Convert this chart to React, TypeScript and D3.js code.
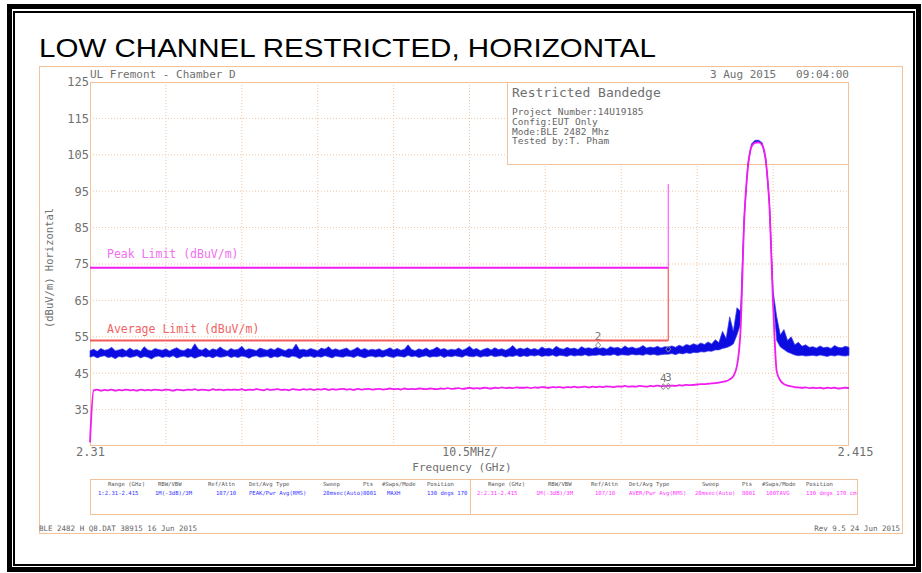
import React, { useEffect, useRef } from 'react';
import * as d3 from 'd3';

// sweep: 2.31 - 2.415 GHz, one sample every 0.5 MHz
const startMHz = 2310;
const stopMHz = 2415;
const stepMHz = 0.5;

// trace 1 (peak / max hold), upper and lower edge of the noisy band, dBuV/m
const peakHi = [
  51.2, 51.6, 51.0, 51.8, 51.3, 51.5, 52.1, 51.2, 51.4, 51.7, 51.1, 51.9, 51.3, 51.5, 51.0, 52.3, 51.4, 51.2, 51.8, 51.5,
  51.3, 51.7, 51.1, 51.6, 52.0, 51.4, 51.2, 51.8, 51.5, 53.1, 51.6, 51.3, 51.9, 51.2, 51.7, 51.4, 52.2, 51.5, 51.1, 51.8,
  51.4, 51.6, 52.4, 51.3, 51.7, 51.5, 51.2, 51.9, 51.6, 51.3, 51.8, 51.4, 52.0, 51.6, 51.2, 51.7, 51.5, 53.0, 51.4, 51.6,
  51.3, 51.8, 51.5, 51.2, 51.9, 51.6, 52.3, 51.4, 51.7, 51.3, 51.6, 51.9, 51.2, 51.5, 52.1, 51.4, 51.8, 51.3, 51.6, 51.4,
  51.7, 51.2, 51.5, 52.0, 51.4, 51.8, 51.3, 51.6, 52.8, 51.5, 51.2, 51.7, 51.4, 51.9, 51.3, 51.6, 52.2, 51.5, 51.8, 51.3,
  51.6, 51.4, 51.9, 51.3, 51.7, 52.4, 51.5, 51.8, 51.2, 51.6, 51.9, 51.4, 52.0, 51.5, 51.7, 51.3, 51.8, 52.6, 51.5, 51.9,
  51.6, 52.0, 51.5, 51.8, 51.4, 52.2, 51.7, 51.9, 51.5, 52.4, 51.8, 51.6, 52.1, 51.7, 51.9, 51.5, 52.3, 51.8, 52.0, 51.7,
  52.1, 51.8, 52.0, 51.6, 52.3, 51.9, 52.1, 51.7, 52.5, 51.9, 52.2, 51.8, 52.0, 52.6, 51.9, 52.2, 52.0, 52.4, 51.9, 52.3,
  52.2, 52.5, 52.1, 52.7, 52.3, 52.9, 52.6, 53.1, 52.7, 53.3, 52.9, 53.6, 53.0, 54.2, 53.4, 56.5, 54.5, 60.5, 56.5, 63.0,
  62.0, 88.3, 102.6, 108.0, 109.0, 109.0, 108.3, 104.1, 91.9, 67.5, 60.5, 55.5, 57.0, 54.0, 55.0, 52.8, 53.5, 52.4, 52.8, 52.1,
  52.3, 51.9, 52.5, 52.0, 52.2, 51.8, 52.6, 52.1, 52.0, 52.4, 52.1,
];
const peakLo = [
  49.4, 49.7, 49.2, 49.6, 49.8, 49.3, 49.5, 49.0, 49.6, 49.4, 49.7, 49.3, 49.5, 49.8, 49.2, 49.6, 49.4, 48.9, 49.5, 49.7,
  49.3, 49.6, 49.4, 49.8, 49.2, 49.5, 49.7, 49.3, 49.6, 49.1, 49.5, 49.8, 49.4, 49.6, 49.2, 49.7, 49.4, 49.5, 49.8, 49.3,
  49.6, 49.3, 49.7, 49.5, 49.1, 49.6, 49.8, 49.4, 49.5, 49.7, 49.2, 49.6, 49.4, 49.8, 49.5, 49.3, 49.7, 49.5, 49.0, 49.6,
  49.5, 49.7, 49.3, 49.6, 49.4, 49.8, 49.5, 49.2, 49.7, 49.5, 49.4, 49.7, 49.6, 49.3, 49.8, 49.5, 49.2, 49.6, 49.7, 49.4,
  49.6, 49.4, 49.8, 49.5, 49.3, 49.7, 49.6, 49.4, 49.9, 49.5, 49.7, 49.3, 49.6, 49.8, 49.4, 49.6, 49.5, 49.8, 49.3, 49.7,
  49.5, 49.8, 49.6, 49.4, 49.9, 49.6, 49.5, 49.8, 49.4, 49.7, 49.6, 49.9, 49.5, 49.7, 49.8, 49.4, 49.7, 49.6, 49.9, 49.5,
  49.8, 49.6, 49.9, 49.7, 50.0, 49.6, 49.8, 49.7, 50.0, 49.6, 49.9, 49.8, 49.6, 50.0, 49.7, 49.9, 49.8, 50.1, 49.7, 49.9,
  49.9, 50.1, 49.8, 50.0, 49.9, 50.2, 49.8, 50.1, 50.0, 49.9, 50.2, 50.0, 50.1, 49.9, 50.3, 50.0, 50.2, 49.9, 50.1, 50.2,
  50.2, 50.4, 50.1, 50.5, 50.3, 50.6, 50.4, 50.7, 50.6, 50.9, 50.8, 51.1, 51.0, 51.4, 51.4, 51.8, 52.0, 52.4, 53.0, 55.5,
  58.5, 87.3, 101.8, 107.3, 108.5, 108.5, 107.7, 103.4, 91.0, 65.5, 54.0, 52.2, 51.5, 50.8, 50.4, 50.0, 49.8, 49.9, 49.7, 49.8,
  49.9, 49.7, 50.0, 49.8, 49.6, 49.9, 49.7, 50.0, 49.8, 49.7, 49.9,
];
// trace 2 (average)
const avgTrace = [
  26.0, 40.3, 40.5, 40.2, 40.4, 40.3, 40.5, 40.2, 40.4, 40.3, 40.5, 40.3, 40.4, 40.2, 40.5, 40.3, 40.4, 40.3, 40.5, 40.4,
  40.3, 40.5, 40.4, 40.2, 40.5, 40.4, 40.3, 40.5, 40.4, 40.6, 40.3, 40.5, 40.4, 40.3, 40.6, 40.4, 40.5, 40.3, 40.5, 40.4,
  40.5, 40.4, 40.6, 40.3, 40.5, 40.4, 40.6, 40.5, 40.3, 40.6, 40.4, 40.5, 40.6, 40.4, 40.5, 40.3, 40.6, 40.5, 40.4, 40.6,
  40.5, 40.6, 40.4, 40.6, 40.5, 40.7, 40.4, 40.6, 40.5, 40.6, 40.7, 40.5, 40.6, 40.4, 40.7, 40.5, 40.6, 40.7, 40.5, 40.6,
  40.7, 40.5, 40.6, 40.8, 40.6, 40.7, 40.5, 40.8, 40.6, 40.7, 40.6, 40.8, 40.7, 40.6, 40.8, 40.7, 40.6, 40.8, 40.7, 40.9,
  40.7, 40.8, 40.9, 40.7, 40.8, 41.0, 40.8, 40.9, 40.8, 41.0, 40.9, 40.8, 41.0, 40.9, 41.1, 40.9, 41.0, 40.9, 41.1, 41.0,
  41.0, 41.1, 40.9, 41.1, 41.0, 41.2, 41.1, 41.0, 41.2, 41.1, 41.2, 41.0, 41.2, 41.1, 41.3, 41.1, 41.2, 41.3, 41.1, 41.3,
  41.2, 41.3, 41.2, 41.4, 41.3, 41.2, 41.4, 41.3, 41.5, 41.3, 41.4, 41.3, 41.5, 41.4, 41.3, 41.5, 41.4, 41.6, 41.4, 41.5,
  41.5, 41.6, 41.5, 41.7, 41.6, 41.8, 41.7, 41.8, 41.9, 42.0, 42.0, 42.1, 42.2, 42.3, 42.4, 42.6, 42.8, 43.3, 44.2, 47.0,
  57.0, 86.8, 101.3, 107.2, 108.3, 108.4, 107.6, 103.2, 90.5, 64.0, 45.5, 43.0, 42.0, 41.6, 41.4, 41.2, 41.1, 41.0, 41.1, 40.9,
  41.0, 40.9, 41.0, 40.8, 41.0, 40.9, 41.0, 40.8, 40.9, 41.0, 40.9,
];

const yTicks = [125, 115, 105, 95, 85, 75, 65, 55, 45, 35];

const peakLimit = 74;
const avgLimit = 54;
const bandEdgeMHz = 2390;
const bandEdgeTop = 97;

// marker 1 sits on the band edge line, its number is hidden there
const markerIds = ['', '2', '3', '4'];
const markerMHz = [2390, 2380.3, 2390, 2389.3];
const markerLevel = [51.6, 52.7, 41.4, 41.3];

const infoTitle = 'Restricted Bandedge';
const infoLines = ['Project Number:14U19185', 'Config:EUT Only', 'Mode:BLE 2482 Mhz', 'Tested by:T. Pham'];

const legendHeads = ['Range (GHz)', 'RBW/VBW', 'Ref/Attn', 'Det/Avg Type', 'Sweep', 'Pts', '#Swps/Mode', 'Position'];
const legend1 = ['1:2.31-2.415', '1M(-3dB)/3M', '107/10', 'PEAK/Pwr Avg(RMS)', '20msec(Auto)', '8001', 'MAXH', '130 degs 170'];
const legend2 = ['2:2.31-2.415', '1M(-3dB)/3M', '107/10', 'AVER/Pwr Avg(RMS)', '20msec(Auto)', '8001', '100TAVG', '130 degs 170 cm'];

const mono = '"DejaVu Sans Mono", monospace';
const orange = '#f2c29b';
const gridCol = '#f0c6a4';
const grey = '#707070';
const blue = '#0c0ce0';
const magenta = '#f01cf0';
const salmon = '#f45a5a';

const App = () => {
  const svgRef = useRef<SVGSVGElement>(null);

  useEffect(() => {
    const svg = d3.select(svgRef.current);
    svg.selectAll('*').remove();

    const x = d3.scaleLinear().domain([startMHz, stopMHz]).range([90, 849]);
    const y = d3.scaleLinear().domain([25, 125]).range([446, 82]);
    const freqs = peakHi.map((_, i) => startMHz + i * stepMHz);

    // page frames
    svg.append('rect').attr('x', 9.5).attr('y', 6.5).attr('width', 909).attr('height', 563)
      .attr('fill', 'none').attr('stroke', '#000').attr('stroke-width', 5);
    svg.append('rect').attr('x', 14).attr('y', 12).attr('width', 900).attr('height', 553)
      .attr('fill', 'none').attr('stroke', '#000').attr('stroke-width', 2);

    svg.append('text').attr('x', 39).attr('y', 57)
      .attr('font-family', '"Liberation Sans", Arial, sans-serif').attr('font-size', 26.5)
      .attr('textLength', 617).attr('lengthAdjust', 'spacingAndGlyphs')
      .text('LOW CHANNEL RESTRICTED, HORIZONTAL');

    svg.append('rect').attr('x', 39.5).attr('y', 66.5).attr('width', 863).attr('height', 467)
      .attr('fill', 'none').attr('stroke', orange);

    // grid
    const grid = svg.append('g').attr('stroke', gridCol).attr('stroke-dasharray', '1,2');
    grid.selectAll('.hg').data(yTicks.filter(t => t < 125)).join('line')
      .attr('x1', 90).attr('x2', 849).attr('y1', d => y(d)).attr('y2', d => y(d));
    grid.selectAll('.vg').data(d3.range(1, 10).map(k => startMHz + k * 10.5)).join('line')
      .attr('y1', 82).attr('y2', 446).attr('x1', d => x(d)).attr('x2', d => x(d));

    svg.append('rect').attr('x', 90.5).attr('y', 82.5).attr('width', 758).attr('height', 363)
      .attr('fill', 'none').attr('stroke', orange);

    // axes
    const yAxis = d3.axisLeft(y).tickValues(yTicks).tickSize(0).tickPadding(1);
    svg.append('g').attr('transform', 'translate(90,0)').call(yAxis)
      .attr('font-family', mono).attr('font-size', 12)
      .call(g => g.select('.domain').remove())
      .selectAll('text').attr('fill', grey);

    const xAxis = d3.axisBottom(x).tickValues([startMHz, stopMHz]).tickSize(0).tickPadding(1)
      .tickFormat(d => String(+d / 1000));
    svg.append('g').attr('transform', 'translate(0,446)').call(xAxis)
      .attr('font-family', mono).attr('font-size', 12)
      .call(g => g.select('.domain').remove())
      .selectAll('text').attr('fill', grey).attr('dx', (d: any) => (d === stopMHz ? 6 : 0));

    const txt = (tx: number, ty: number, s: string, size: number, fill = grey, anchor = 'start') =>
      svg.append('text').attr('x', tx).attr('y', ty).attr('font-family', mono).attr('font-size', size)
        .attr('fill', fill).attr('text-anchor', anchor).style('white-space', 'pre').text(s);

    txt(470, 456, '10.5MHz/', 11.5, grey, 'middle');
    txt(462, 471, 'Frequency (GHz)', 11, grey, 'middle');
    txt(90, 78, 'UL Fremont - Chamber D', 11);
    txt(849, 78, '3 Aug 2015   09:04:00', 11, grey, 'end');
    svg.append('text').attr('transform', 'translate(53,268) rotate(-90)').attr('text-anchor', 'middle')
      .attr('font-family', mono).attr('font-size', 10.5).attr('fill', grey).text('(dBuV/m) Horizontal');

    // info box
    svg.append('rect').attr('x', 507.5).attr('y', 82.5).attr('width', 341).attr('height', 82)
      .attr('fill', '#fff').attr('stroke', orange);
    txt(512, 97, infoTitle, 13);
    infoLines.forEach((s, i) => txt(512, 115 + i * 9.8, s, 9.5, '#666'));

    // traces
    const band = d3.area<number>()
      .x((_, i) => x(freqs[i]))
      .y0((_, i) => y(peakLo[i]))
      .y1(d => y(d));
    svg.append('path').datum(peakHi).attr('d', band)
      .attr('fill', blue).attr('stroke', '#3a3af0').attr('stroke-width', 0.7).attr('stroke-linejoin', 'round');

    const avgLine = d3.line<number>().x((_, i) => x(freqs[i])).y(d => y(d)).curve(d3.curveMonotoneX);
    svg.append('path').datum(avgTrace).attr('d', avgLine)
      .attr('fill', 'none').attr('stroke', magenta).attr('stroke-width', 1.8);

    // markers
    const mk = svg.append('g');
    markerIds.forEach((id, i) => {
      const mx = x(markerMHz[i]);
      const my = y(markerLevel[i]);
      mk.append('path').attr('d', `M${mx},${my - 3}L${mx + 2.5},${my}L${mx},${my + 3}L${mx - 2.5},${my}Z`)
        .attr('fill', 'none').attr('stroke', '#888').attr('stroke-width', 1);
      mk.append('text').attr('x', mx).attr('y', my - 5).attr('text-anchor', 'middle')
        .attr('font-family', mono).attr('font-size', 11).attr('fill', '#777').text(id);
    });

    // limits
    const lim = d3.line<[number, number]>().x(d => x(d[0])).y(d => y(d[1]));
    svg.append('path').datum([[startMHz, peakLimit], [bandEdgeMHz, peakLimit]] as [number, number][])
      .attr('d', lim).attr('stroke', magenta).attr('stroke-width', 2).attr('fill', 'none');
    svg.append('path').datum([[startMHz, avgLimit], [bandEdgeMHz, avgLimit]] as [number, number][])
      .attr('d', lim).attr('stroke', salmon).attr('stroke-width', 2).attr('fill', 'none');
    svg.append('path').datum([[bandEdgeMHz, bandEdgeTop], [bandEdgeMHz, peakLimit]] as [number, number][])
      .attr('d', lim).attr('stroke', '#f466f4').attr('stroke-width', 1.2).attr('fill', 'none');
    svg.append('path').datum([[bandEdgeMHz, peakLimit], [bandEdgeMHz, avgLimit]] as [number, number][])
      .attr('d', lim).attr('stroke', salmon).attr('stroke-width', 1.2).attr('fill', 'none');
    txt(107, 258, 'Peak Limit (dBuV/m)', 11.5, '#f070f0');
    txt(107, 333, 'Average Limit (dBuV/m)', 11.5, '#f06464');

    // trace legend boxes
    svg.append('rect').attr('x', 90.5).attr('y', 479.5).attr('width', 380).attr('height', 35)
      .attr('fill', '#fff').attr('stroke', orange);
    svg.append('rect').attr('x', 470.5).attr('y', 479.5).attr('width', 387).attr('height', 35)
      .attr('fill', 'none').attr('stroke', orange);
    const head1 = [108, 158, 208, 249, 323, 363, 382, 427];
    const val1 = [98, 155, 216, 249, 323, 363, 387, 427];
    const head2 = [488, 548, 591, 629, 702, 742, 762, 806];
    const val2 = [477, 536, 595, 629, 695, 742, 766, 806];
    legendHeads.forEach((s, i) => {
      txt(head1[i], 486, s, 5.6, '#555');
      txt(head2[i], 486, s, 5.6, '#555');
    });
    legend1.forEach((s, i) => txt(val1[i], 495, s, 5.6, '#3333ff'));
    legend2.forEach((s, i) => txt(val2[i], 495, s, 5.6, '#ff33ff'));

    txt(39, 531, 'BLE 2482 H Q8.DAT 38915 16 Jun 2015', 7.5, '#666');
    txt(900, 531, 'Rev 9.5 24 Jun 2015', 7.5, '#666', 'end');
  }, []);

  return (
    <svg ref={svgRef} width={922} height={573}
      style={{ position: 'absolute', left: 0, top: 0, background: '#fff' }} />
  );
};

export default App;
